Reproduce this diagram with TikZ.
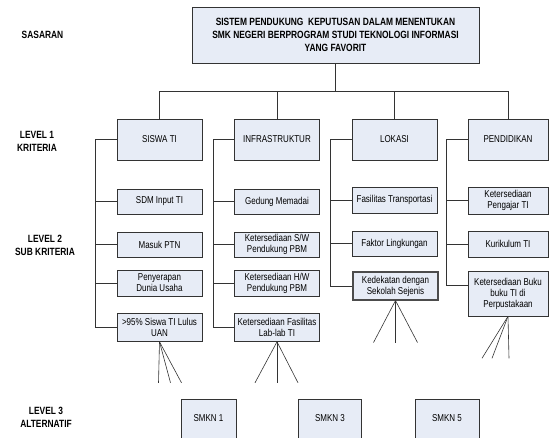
\documentclass[tikz,border=0pt]{standalone}
\usepackage{fontspec}
\setmainfont{Liberation Sans}[FakeStretch=0.8]

\definecolor{kotakbiru}{HTML}{E7ECF6}
\tikzset{
  kotak/.style={draw=black!80, fill=kotakbiru, line width=0.6pt, align=center, inner sep=0pt, font=\fontsize{10}{11}\selectfont},
  judul/.style={kotak, font=\bfseries\fontsize{10.5}{12.8}\selectfont},
  kriteria/.style={kotak, minimum width=85pt, minimum height=41pt},
  sub/.style={kotak, minimum width=85pt},
  alt/.style={kotak, minimum height=39pt},
  level/.style={align=center, font=\bfseries\fontsize{10.5}{13}\selectfont},
  garis/.style={draw=black!80, line width=0.6pt}
}

\begin{document}
\begin{tikzpicture}[x=1pt, y=-1pt]
\useasboundingbox (0,0) rectangle (549,438);

% label tingkat
\node[level] (sasaran) at (42.5,35) {SASARAN};
\node[level] (lv1) at (37,141) {LEVEL 1\\KRITERIA};
\node[level] (lv2) at (45,245) {LEVEL 2\\SUB KRITERIA};
\node[level] (lv3) at (46,417) {LEVEL 3\\ALTERNATIF};

% sasaran
\node[judul, minimum width=287pt, minimum height=56pt] (spk) at (335.5,35) {SISTEM PENDUKUNG~ KEPUTUSAN DALAM MENENTUKAN\\SMK NEGERI BERPROGRAM STUDI TEKNOLOGI INFORMASI\\YANG FAVORIT};

% kriteria
\node[kriteria] (siswa) at (159.5,139.5) {SISWA TI};
\node[kriteria] (infra) at (277,139.5) {INFRASTRUKTUR};
\node[kriteria] (lokasi) at (394.5,139.5) {LOKASI};
\node[kriteria, minimum width=80pt] (didik) at (508,139.5) {PENDIDIKAN};

% sub kriteria
\node[sub, minimum height=25pt] (sdm) at (159.5,201.5) {SDM Input TI};
\node[sub, minimum height=25pt] (ptn) at (159.5,244.5) {Masuk PTN};
\node[sub, minimum height=26pt] (serap) at (159.5,283) {Penyerapan\\Dunia Usaha};
\node[sub, minimum height=28pt] (lulus) at (159.5,327.5) {>95\% Siswa TI Lulus\\UAN};

\node[sub, minimum height=25pt] (gedung) at (277,201.5) {Gedung Memadai};
\node[sub, minimum height=25pt] (sw) at (277,244.5) {Ketersediaan S/W\\Pendukung PBM};
\node[sub, minimum height=26pt] (hw) at (277,283) {Ketersediaan H/W\\Pendukung PBM};
\node[sub, minimum height=28pt] (lab) at (277,327.5) {Ketersediaan Fasilitas\\Lab-lab TI};

\node[sub, minimum height=26pt] (trans) at (394.5,200) {Fasilitas Transportasi};
\node[sub, minimum height=25pt] (faktor) at (394.5,243.5) {Faktor Lingkungan};
\node[sub, minimum height=28pt, line width=1.1pt, draw=black!70] (dekat) at (395.5,286) {Kedekatan dengan\\Sekolah Sejenis};

\node[sub, minimum width=80pt, minimum height=27pt] (ajar) at (508,200.5) {Ketersediaan\\Pengajar TI};
\node[sub, minimum width=80pt, minimum height=26pt] (kurikulum) at (508,244) {Kurikulum TI};
\node[sub, minimum width=80pt, minimum height=45pt] (buku) at (508,293.5) {Ketersediaan Buku\\buku TI di\\Perpustakaan};

% alternatif
\node[alt, minimum width=55pt] (smk1) at (208.5,418.5) {SMKN 1};
\node[alt, minimum width=63pt] (smk3) at (330,418.5) {SMKN 3};
\node[alt, minimum width=64pt] (smk5) at (447,418.5) {SMKN 5};

% garis sasaran ke kriteria
\foreach \k in {siswa,infra,lokasi,didik}
  \draw[garis] (spk.south) -- ++(0,28) -| (\k.north);

% garis kriteria ke sub kriteria
\foreach \k/\s in {siswa/sdm, siswa/ptn, siswa/serap, siswa/lulus,
                   infra/gedung, infra/sw, infra/hw, infra/lab,
                   lokasi/trans, lokasi/faktor, lokasi/dekat,
                   didik/ajar, didik/kurikulum}
  \draw[garis] (\k.west) -- ++(-21,0) |- (\s.west);
\draw[garis] (didik.west) -- ++(-21,0) |- ([yshift=8.5pt]buku.west);

% garis ke alternatif (terpotong)
\foreach \b/\u/\dy in {lulus/{-1,11,22}/41, lab/{-22,0,21}/41,
                       dekat/{-22,0,22}/42, buku/{-26,-16,1}/42}
  \foreach \dx [count=\i] in \u {
    \coordinate (\b-\i) at ([shift={(\dx,\dy)}]\b.south);
    \draw[garis] (\b.south) -- (\b-\i);
  }
\end{tikzpicture}
\end{document}
